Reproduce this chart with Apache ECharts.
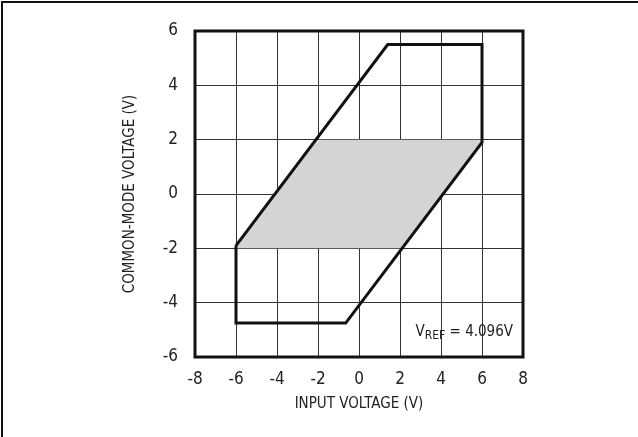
<!DOCTYPE html>
<html>
<head>
<meta charset="utf-8">
<script src="https://cdn.jsdelivr.net/npm/echarts@6/dist/echarts.min.js"></script>
<style>
html,body{margin:0;padding:0;background:#fff;}
#c{width:638px;height:437px;}
</style>
</head>
<body>
<div id="c"></div>
<script>
var xTicks = [-8, -6, -4, -2, 0, 2, 4, 6, 8];
var yTicks = [-6, -4, -2, 0, 2, 4, 6];
// outer boundary (input voltage, common-mode voltage)
var boundaryX = [-6, -6, -0.65, 6, 6, 1.4, -6];
var boundaryY = [-1.9, -4.75, -4.75, 1.9, 5.5, 5.5, -1.9];
// shaded region
var shadeX = [-6, 2.1, 6, 6, -2.1, -6];
var shadeY = [-2, -2, 1.9, 2, 2, -1.9];

var FONT = '"DejaVu Sans Condensed", "Liberation Sans Narrow", "Liberation Sans", sans-serif';
var boundary = boundaryX.map(function (x, i) { return [x, boundaryY[i]]; });
var shade = shadeX.map(function (x, i) { return [x, shadeY[i]]; });

var chart = echarts.init(document.getElementById('c'), null, {renderer: 'canvas'});
chart.setOption({
  backgroundColor: '#fff',
  animation: false,
  grid: {left: 195, top: 31, width: 328, height: 326, show: true, borderColor: '#111', borderWidth: 3, backgroundColor: 'transparent', z: 10},
  xAxis: {
    type: 'value', min: xTicks[0], max: xTicks[xTicks.length - 1], interval: 2,
    name: 'INPUT VOLTAGE (V)', nameLocation: 'middle', nameGap: 40,
    nameTextStyle: {fontFamily: FONT, fontSize: 15, color: '#222'},
    axisLine: {show: false}, axisTick: {show: false},
    axisLabel: {fontFamily: FONT, fontSize: 17, color: '#222', margin: 14},
    splitLine: {show: true, lineStyle: {color: '#333', width: 1}}
  },
  yAxis: {
    type: 'value', min: yTicks[0], max: yTicks[yTicks.length - 1], interval: 2,
    name: 'COMMON-MODE VOLTAGE (V)', nameLocation: 'middle', nameGap: 57,
    nameTextStyle: {fontFamily: FONT, fontSize: 15, color: '#222'},
    axisLine: {show: false}, axisTick: {show: false},
    axisLabel: {fontFamily: FONT, fontSize: 17, color: '#222', margin: 17},
    splitLine: {show: true, lineStyle: {color: '#333', width: 1}}
  },
  graphic: [
    {type: 'polyline', shape: {points: [[2, 437], [2, 2], [700, 2]]}, style: {stroke: '#111', lineWidth: 2, fill: null}, silent: true},
    {type: 'text', right: 125, top: 325, z: 20, style: {
      text: '{a|V}{b|REF}{a| = 4.096V}',
      rich: {
        a: {fontFamily: FONT, fontSize: 15, fill: '#222'},
        b: {fontFamily: FONT, fontSize: 12, fill: '#222', padding: [6, 0, 0, 0]}
      }
    }}
  ],
  series: [
    {
      type: 'custom', coordinateSystem: 'cartesian2d', z: 1,
      data: [0],
      renderItem: function (params, api) {
        var pts = shade.map(function (p) { return api.coord(p); });
        return {type: 'polygon', shape: {points: pts}, style: {fill: '#d4d4d4', stroke: null}};
      }
    },
    {
      type: 'line', data: boundary, symbol: 'none', z: 5,
      lineStyle: {color: '#111', width: 3, join: 'miter'}
    }
  ]
});
</script>
</body>
</html>
